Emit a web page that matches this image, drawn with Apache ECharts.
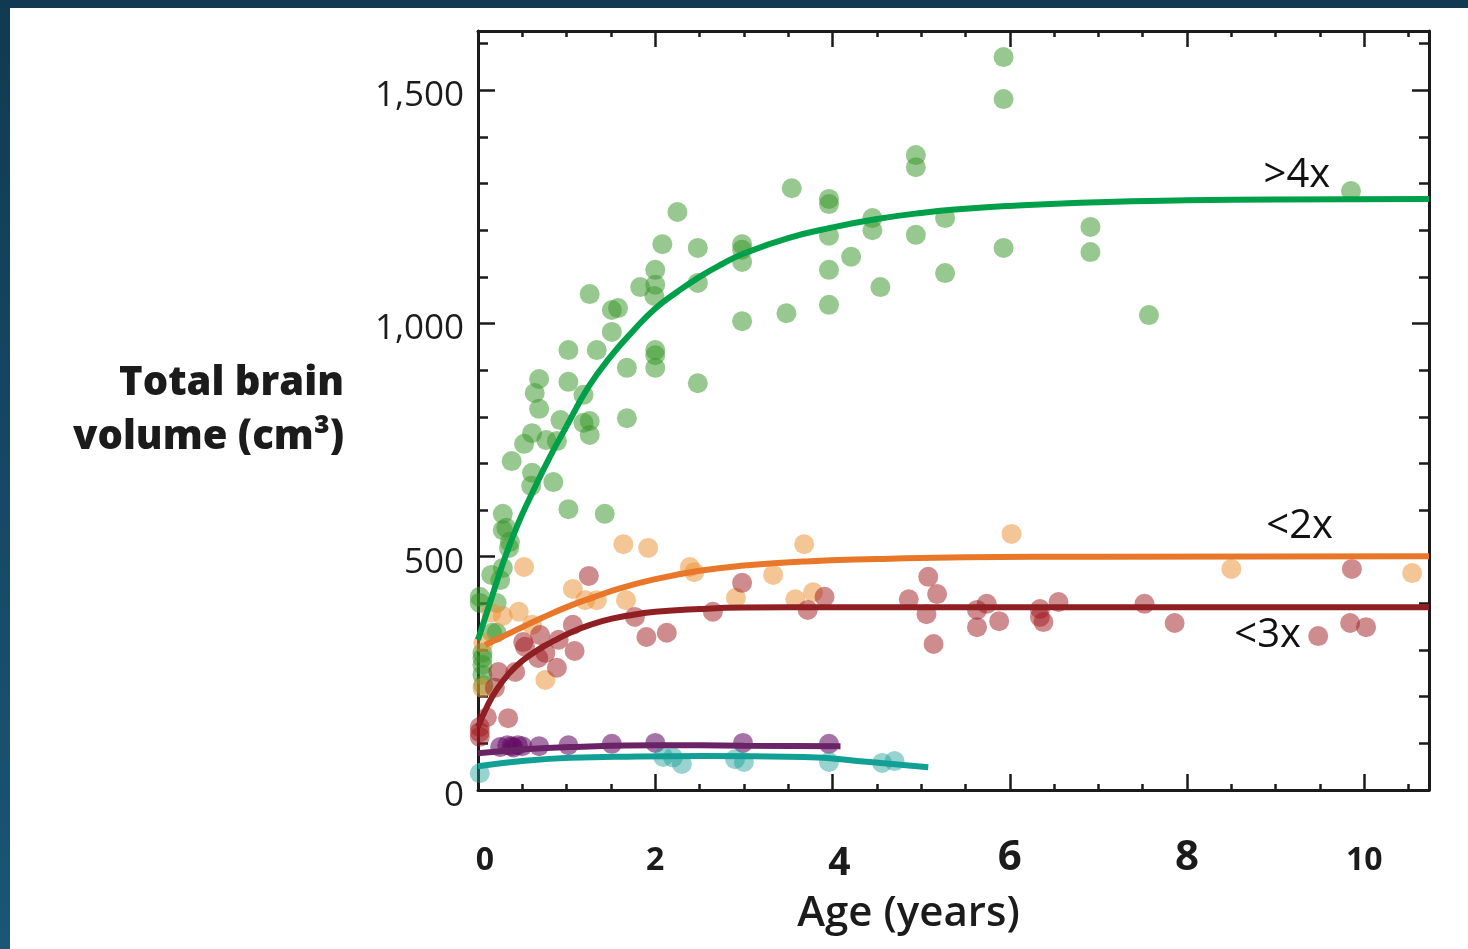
<!DOCTYPE html>
<html><head><meta charset="utf-8">
<script src="https://cdn.jsdelivr.net/npm/echarts@6/dist/echarts.min.js"></script>
<style>
html,body{margin:0;padding:0;width:1468px;height:949px;overflow:hidden;background:linear-gradient(180deg,#113a52,#1a5676);}
#paper{position:absolute;left:10px;top:8px;right:0;bottom:0;background:#fff;}
#chart{position:absolute;left:0;top:0;width:1468px;height:949px;}
</style></head><body><div id="paper"></div><div id="chart"></div>
<script>
// ---- data: [age (years), total brain volume (cm3)] ----
var greenPts = [
 [2.25,1239],[2.08,1170],[2.48,1162],[2.0,1115],[1.83,1078],[2.0,1083],[1.99,1059],[2.48,1087],
 [1.26,1063],[1.51,1029],[1.58,1033],[1.51,982],[1.02,943],[1.34,943],[2.0,943],[2.0,932],[2.0,905],
 [1.68,905],[0.69,881],[0.64,851],[1.02,875],[1.19,847],[2.48,872],[0.69,817],[0.93,793],[1.19,787],
 [1.26,791],[1.68,797],[1.26,761],[0.61,765],[0.52,742],[0.77,750],[0.89,748],[0.38,705],[0.61,680],
 [0.60,652],[0.85,660],[1.02,602],[1.43,592],[0.28,592],[0.28,557],[0.32,562],[0.36,532],[0.35,519],
 [0.28,476],[0.15,461],[0.25,450],[0.21,401],[0.02,414],[0.02,401],[0.16,337],[0.21,337],[0.05,294],
 [0.05,283],[0.05,268],[0.05,247],[0.06,225],
 [5.93,1571],[5.93,1481],[4.94,1361],[4.94,1335],[3.54,1290],[3.96,1267],[3.96,1256],[9.85,1284],
 [4.45,1226],[4.45,1200],[5.27,1226],[4.94,1190],[3.96,1188],[6.91,1207],[6.91,1153],[2.98,1170],
 [2.98,1158],[2.98,1132],[5.93,1162],[4.21,1143],[3.96,1115],[5.27,1108],[4.54,1078],[2.98,1005],
 [3.48,1022],[3.96,1040],[7.57,1018]
];
var orangePts = [
 [1.64,527],[1.92,519],[3.68,527],[0.52,478],[2.39,478],[2.44,467],[3.33,461],[1.07,431],[1.21,407],
 [1.34,407],[1.67,407],[2.91,412],[3.58,409],[3.78,424],[0.46,382],[0.28,373],[0.61,354],[0.15,380],
 [0.06,315],[0.76,236],[0.05,219],[6.02,549],[8.5,474],[10.54,465]
];
var redPts = [
 [1.25,459],[2.98,444],[5.08,457],[5.18,420],[4.86,409],[3.91,414],[2.65,382],[3.72,386],[5.06,377],
 [5.14,313],[1.77,371],[1.90,328],[2.13,337],[1.07,354],[0.91,322],[0.51,317],[0.53,307],[0.70,332],
 [0.76,294],[1.09,298],[0.68,283],[0.89,262],[0.42,253],[0.23,253],[0.19,219],[0.34,154],[0.10,156],
 [0.02,135],[0.02,124],[0.02,114],[5.63,386],[5.74,399],[5.88,362],[5.63,349],[6.34,388],[6.34,371],
 [6.38,360],[6.55,403],[7.52,399],[7.86,358],[9.86,474],[9.48,330],[9.84,358],[10.02,349]
];
var purplePts = [
 [0.25,92],[0.33,96],[0.38,94],[0.40,91],[0.45,96],[0.50,94],[0.69,94],[1.02,96],[1.51,99],
 [2.0,101],[2.99,101],[3.96,99]
];
var tealPts = [
 [0.02,36],[2.09,71],[2.2,70],[2.3,56],[2.9,66],[3.0,60],[3.96,60],[4.56,58],[4.7,62]
];
// fitted curves
var greenFit = [[0,322],[0.15,410],[0.3,496],[0.45,570],[0.6,632],[0.8,710],[1.0,780],[1.25,865],
 [1.5,930],[1.75,984],[2.0,1032],[2.25,1068],[2.5,1100],[2.75,1127],[3.0,1150],[3.5,1183],[4.0,1206],
 [4.5,1224],[5.0,1237],[5.5,1246],[6.0,1252],[7.0,1260],[8.0,1264],[9.0,1266],[10.73,1267]];
var orangeFit = [[0.08,311],[0.4,340],[0.7,367],[1.0,392],[1.3,413],[1.6,432],[2.0,452],[2.5,470],
 [3.0,481],[3.7,490],[4.5,495],[5.5,499],[7.0,500],[10.73,501]];
var redFit = [[0,135],[0.1,178],[0.2,212],[0.35,250],[0.5,277],[0.7,303],[0.9,324],[1.1,342],[1.4,362],
 [1.7,374],[2.0,382],[2.5,388],[3.0,391],[4.0,392],[10.73,392]];
var purpleFit = [[0,79],[0.5,87],[1.04,92],[2.02,96],[3.0,95],[4.09,94]];
var tealFit = [[0,51],[0.5,62],[1.04,69],[1.8,72],[2.54,73],[3.67,71],[4.42,60],[5.08,49]];
var curveLabels = [
 {text:'>4x', at:[9.24,1318]},
 {text:'<2x', at:[9.27,564]},
 {text:'<3x', at:[8.91,330]}
];
var xTickMajor = 2, xTickMinor = 0.5, yTickMajor = 500, yTickMinor = 100;
var xMax = 10.73, yMax = 1627;

var FONT = '"Open Sans", "Noto Sans", sans-serif';
var INK = '#1b1b1b';

// old-style-figure imitation for the age tick labels
var xLabelRich = {
  a:{fontSize:32, fontWeight:'bold', fontFamily:FONT, color:INK, lineHeight:62, padding:[0,0,0,14]},
  s:{fontSize:32, fontWeight:'bold', fontFamily:FONT, color:INK, lineHeight:62},
  t:{fontSize:42, fontWeight:'bold', fontFamily:FONT, color:INK, lineHeight:56},
  f:{fontSize:39, fontWeight:'bold', fontFamily:FONT, color:INK, lineHeight:68, padding:[0,0,0,14]}
};
function xLabelFmt(v){
  var r = Math.round(v);
  if (Math.abs(v - r) > 1e-6 || r % 2 !== 0) return '';
  var st = r === 0 ? 'a' : (r === 4 ? 'f' : ((r === 6 || r === 8) ? 't' : 's'));
  return '{' + st + '|' + r + '}';
}

function xAxisDef(pos, interval, len, showLine, showLabel){
  return {type:'value', position:pos, min:0, max:xMax, interval:interval,
    axisLine:{show:showLine, onZero:false, lineStyle:{color:INK, width:3}},
    axisTick:{show:true, inside:true, length:len, lineStyle:{color:INK, width:2.5}},
    splitLine:{show:false},
    axisLabel:{show:showLabel, interval:0, margin:40, color:INK, fontSize:32, fontWeight:'bold', fontFamily:FONT,
      formatter:xLabelFmt, rich:xLabelRich}
  };
}
function yAxisDef(pos, interval, len, showLine, showLabel){
  return {type:'value', position:pos, min:0, max:yMax, interval:interval,
    axisLine:{show:showLine, onZero:false, lineStyle:{color:INK, width:3}},
    axisTick:{show:true, inside:true, length:len, lineStyle:{color:INK, width:2.5}},
    splitLine:{show:false},
    axisLabel:{show:showLabel, margin:14, color:INK, fontSize:35, fontFamily:FONT, verticalAlign:'top', lineHeight:12,
      formatter:function(v){var r=Math.round(v); return (Math.abs(v-r)<1e-6 && r%500===0)? r.toLocaleString('en-US'):'';}}
  };
}

var xAxes = [
  xAxisDef('bottom', xTickMinor, 6, true, true),
  xAxisDef('top', xTickMinor, 6, true, false),
  xAxisDef('bottom', xTickMajor, 16, false, false),
  xAxisDef('top', xTickMajor, 16, false, false)
];
xAxes[0].name = 'Age (years)';
xAxes[0].nameLocation = 'middle';
xAxes[0].nameGap = 124;
xAxes[0].nameTextStyle = {color:INK, fontSize:42, fontWeight:600, fontFamily:FONT, padding:[0,90,0,0], verticalAlign:'middle'};

var yAxes = [
  yAxisDef('left', yTickMinor, 10, true, true),
  yAxisDef('right', yTickMinor, 10, true, false),
  yAxisDef('left', yTickMajor, 17, false, false),
  yAxisDef('right', yTickMajor, 17, false, false)
];
yAxes[0].name = 'Total brain\nvolume (cm³)';
yAxes[0].nameLocation = 'middle';
yAxes[0].nameRotate = 0;
yAxes[0].nameGap = 134;
yAxes[0].nameTextStyle = {color:INK, fontSize:40, fontWeight:800, fontFamily:FONT, align:'right', verticalAlign:'middle', lineHeight:54, padding:[4,0,0,0]};

function scatter(name, data, color){
  return {name:name, type:'scatter', data:data, symbolSize:20, z:2,
    itemStyle:{color:color}, emphasis:{disabled:true}};
}
function fit(name, data, color, label){
  var s = {name:name, type:'line', data:data, smooth:0.5, showSymbol:false, z:5,
    lineStyle:{color:color, width:6}, itemStyle:{color:color}, emphasis:{disabled:true}};
  if(label){
    s.markPoint = {symbol:'circle', symbolSize:1, itemStyle:{color:'rgba(0,0,0,0)'}, silent:true,
      label:{show:true, position:'inside', formatter:label.text, color:'#111', fontSize:40, fontFamily:FONT},
      data:[{coord:label.at}]};
  }
  return s;
}

var chart = echarts.init(document.getElementById('chart'), null, {renderer:'canvas'});
chart.setOption({
  animation:false,
  backgroundColor:'transparent',
  textStyle:{fontFamily:FONT},
  grid:{left:478, right:39, top:31, bottom:159, containLabel:false},
  xAxis:xAxes,
  yAxis:yAxes,
  series:[
    scatter('>4x pts', greenPts, 'rgba(55,150,40,0.65)'),
    scatter('<2x pts', orangePts, 'rgba(235,145,51,0.65)'),
    scatter('<3x pts', redPts, 'rgba(158,23,29,0.62)'),
    scatter('purple pts', purplePts, 'rgba(99,13,101,0.72)'),
    scatter('teal pts', tealPts, 'rgba(20,155,149,0.55)'),
    fit('>4x', greenFit, '#00a04a', curveLabels[0]),
    fit('<2x', orangeFit, '#e8772a', curveLabels[1]),
    fit('<3x', redFit, '#8f1f22', curveLabels[2]),
    fit('purple', purpleFit, '#6a2366'),
    fit('teal', tealFit, '#12a096')
  ]
});
</script></body></html>
